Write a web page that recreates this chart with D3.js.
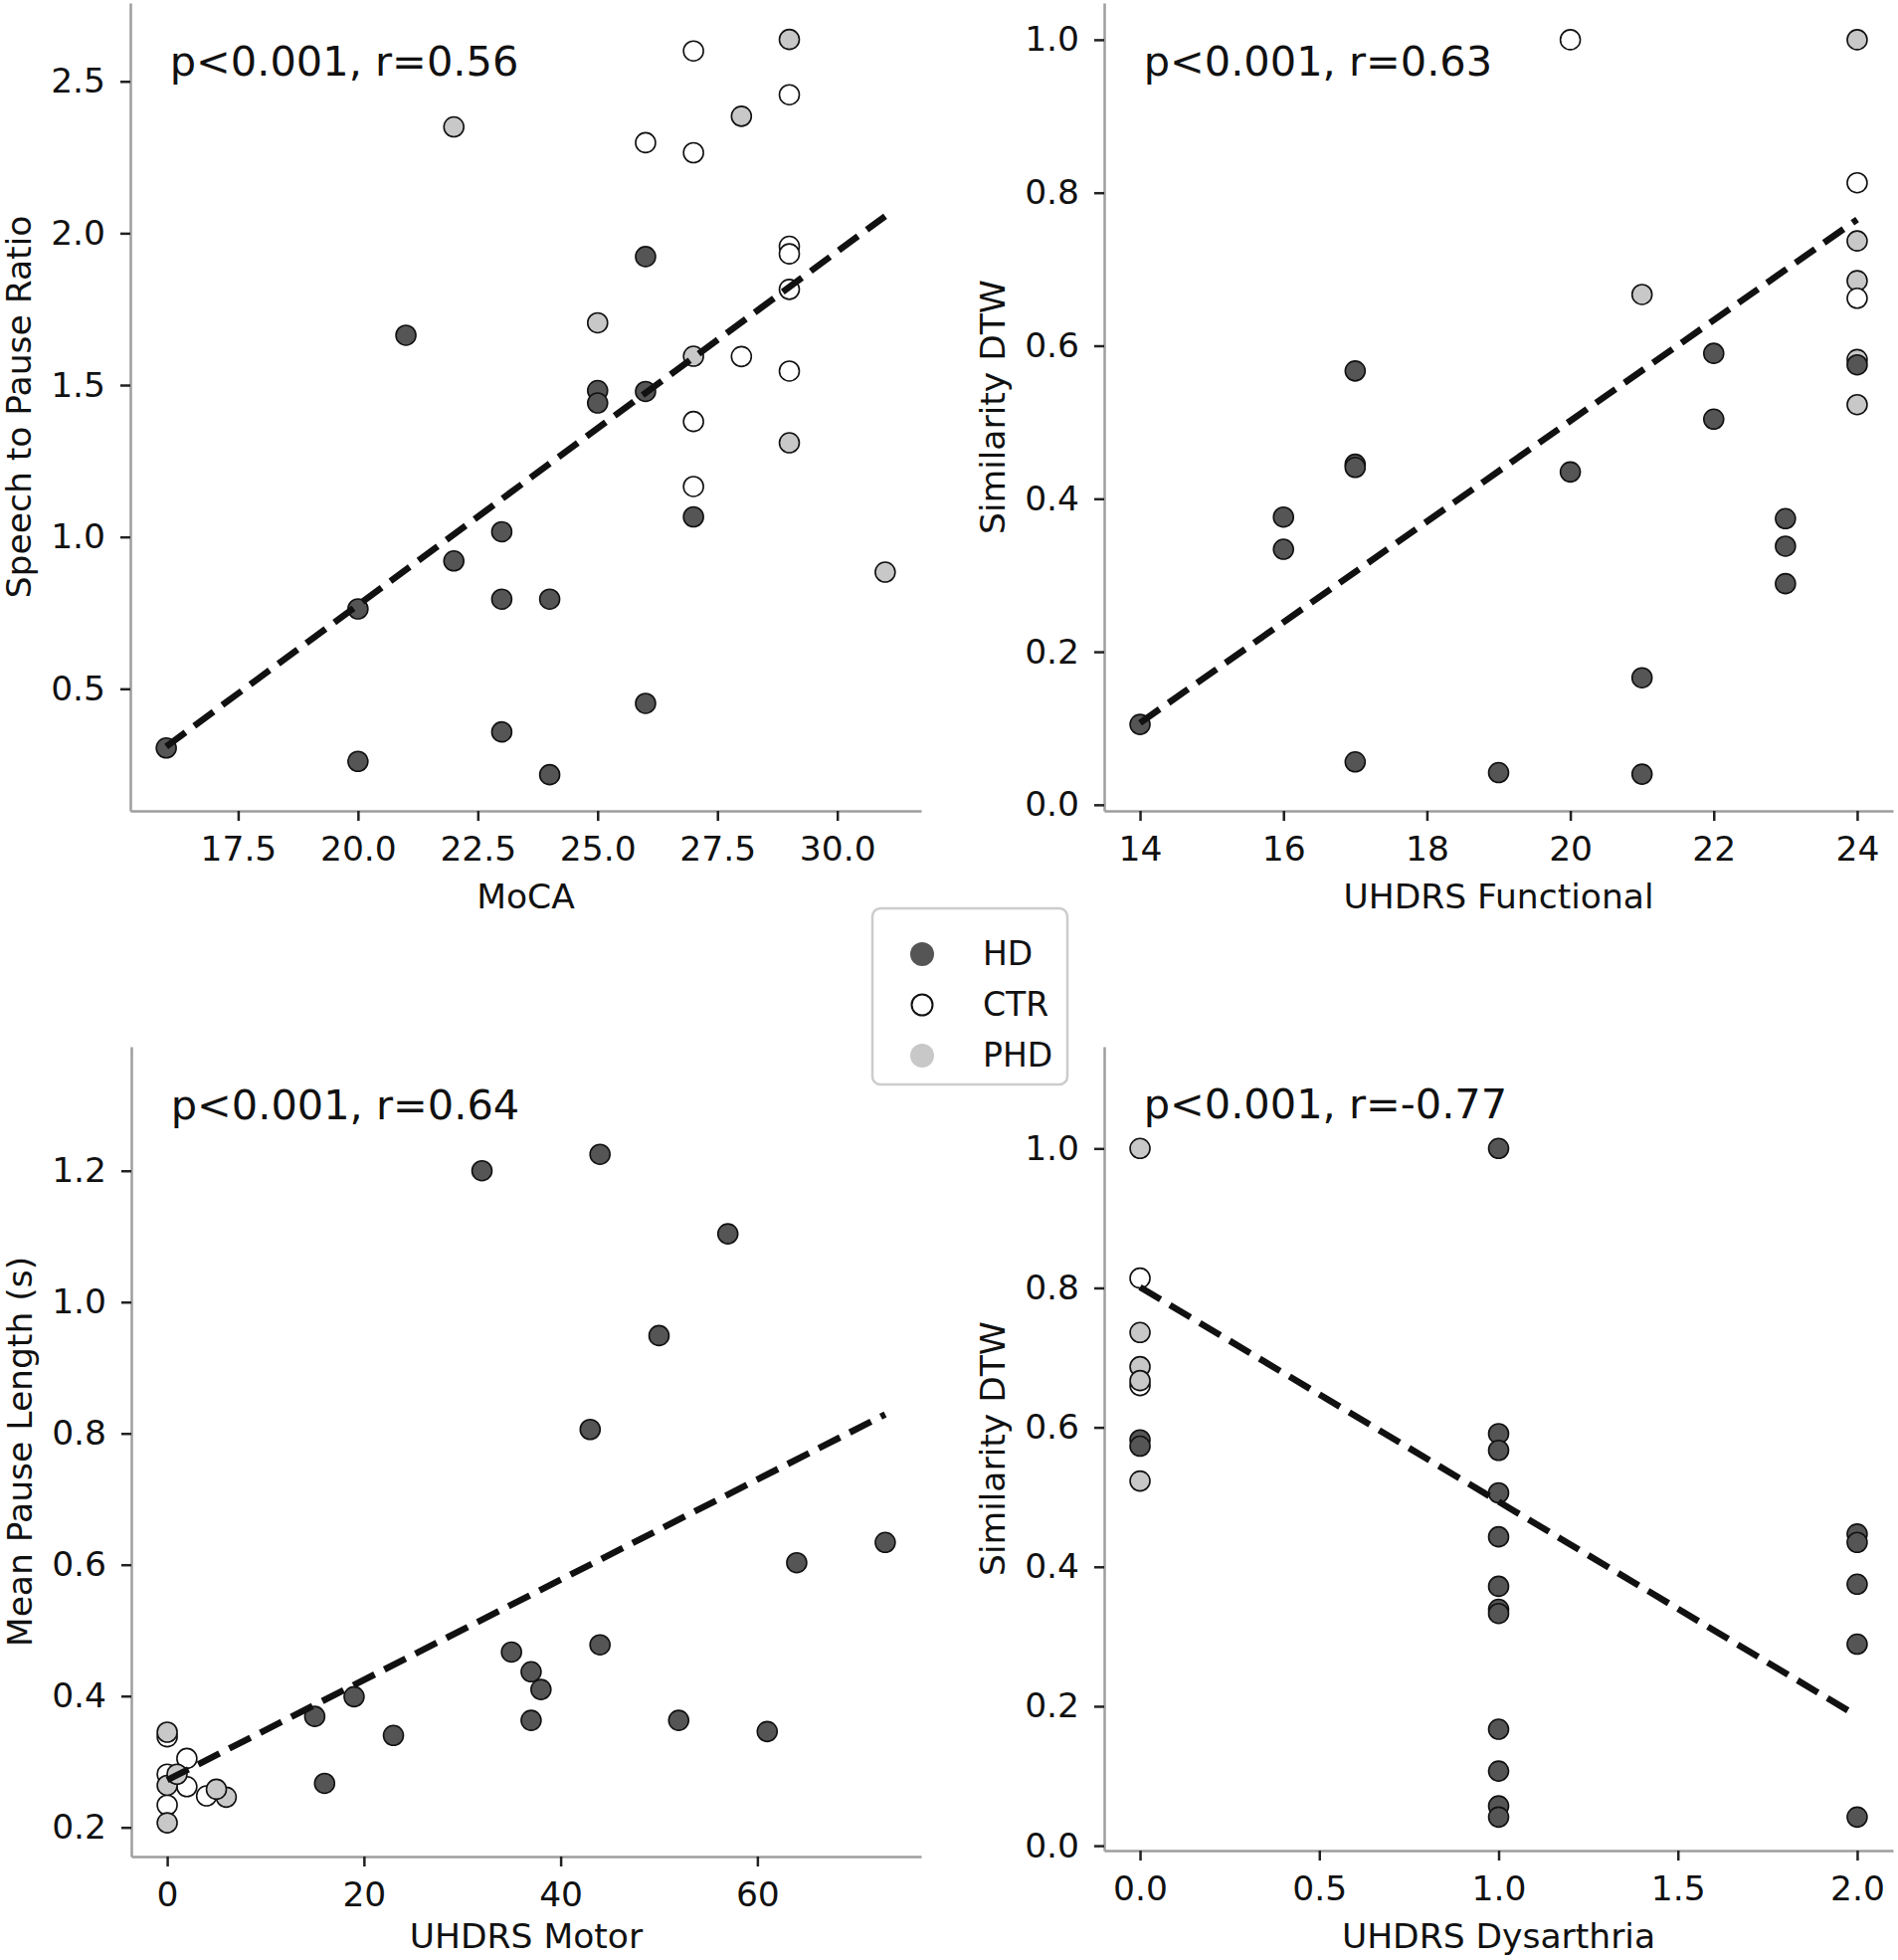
<!DOCTYPE html>
<html>
<head>
<meta charset="utf-8">
<script src="https://cdn.jsdelivr.net/npm/d3@7"></script>
<style>
  body { margin: 0; background: #fff; }
  text { font-family: "DejaVu Sans", sans-serif; }
</style>
</head>
<body>
<svg id="chart" width="1908" height="1970"></svg>
<script>
// ---- data ----
const groups = ["HD", "CTR", "PHD"];

// MoCA vs speech-to-pause ratio
const mocaX = [22, 25, 27, 28, 29, 29, 31,
  26, 27, 27, 27, 27, 28, 29, 29, 29, 29, 29,
  16, 20, 20, 21, 22, 23, 23, 23, 24, 24, 25, 25, 26, 26, 26, 27];
const mocaY = [2.35, 1.705, 1.595, 2.385, 2.638, 1.31, 0.884,
  2.298, 2.6, 2.265, 1.38, 1.166, 1.594, 2.456, 1.957, 1.932, 1.815, 1.546,
  0.305, 0.261, 0.763, 1.664, 0.921, 1.017, 0.795, 0.358, 0.795, 0.217, 1.482, 1.441, 1.923, 1.479, 0.452, 1.066];
const mocaG = ["PHD", "PHD", "PHD", "PHD", "PHD", "PHD", "PHD",
  "CTR", "CTR", "CTR", "CTR", "CTR", "CTR", "CTR", "CTR", "CTR", "CTR", "CTR",
  "HD", "HD", "HD", "HD", "HD", "HD", "HD", "HD", "HD", "HD", "HD", "HD", "HD", "HD", "HD", "HD"];
const mocaFit = [[16, 0.31], [31, 2.056]];

// UHDRS functional vs similarity DTW
const functionalX = [21, 24, 24, 24, 24, 24,
  20, 24, 24,
  14, 16, 16, 17, 17, 17, 17, 19, 20, 21, 21, 22, 22, 23, 23, 23, 24];
const functionalY = [0.667, 1.0, 0.737, 0.685, 0.582, 0.523,
  1.0, 0.813, 0.662,
  0.105, 0.376, 0.334, 0.567, 0.445, 0.441, 0.056, 0.042, 0.435, 0.166, 0.04, 0.59, 0.504, 0.374, 0.338, 0.289, 0.575];
const functionalG = ["PHD", "PHD", "PHD", "PHD", "PHD", "PHD",
  "CTR", "CTR", "CTR",
  "HD", "HD", "HD", "HD", "HD", "HD", "HD", "HD", "HD", "HD", "HD", "HD", "HD", "HD", "HD", "HD", "HD"];
const functionalFit = [[14, 0.107], [24, 0.765]];

// UHDRS motor vs mean pause length
const motorX = [0, 0, 2, 2, 4, 0,
  0, 0, 1, 6, 5, 0,
  15, 16, 19, 23, 32, 35, 37, 37, 38, 43, 44, 44, 50, 52, 57, 61, 64, 73];
const motorY = [0.338, 0.281, 0.305, 0.262, 0.248, 0.234,
  0.345, 0.264, 0.281, 0.246, 0.258, 0.207,
  0.369, 0.267, 0.399, 0.34, 1.2, 0.467, 0.437, 0.363, 0.41, 0.806, 1.225, 0.478, 0.949, 0.363, 1.104, 0.346, 0.603, 0.634];
const motorG = ["CTR", "CTR", "CTR", "CTR", "CTR", "CTR",
  "PHD", "PHD", "PHD", "PHD", "PHD", "PHD",
  "HD", "HD", "HD", "HD", "HD", "HD", "HD", "HD", "HD", "HD", "HD", "HD", "HD", "HD", "HD", "HD", "HD", "HD"];
const motorFit = [[0, 0.272], [73, 0.829]];

// UHDRS dysarthria vs similarity DTW
const dysarthriaX = [0, 0, 0, 0, 0, 0, 0,
  0, 0,
  1, 1, 1, 1, 1, 1, 1, 1, 1, 1, 1, 1,
  2, 2, 2, 2, 2];
const dysarthriaY = [1.0, 0.736, 0.687, 0.523, 0.814, 0.66, 0.667,
  0.582, 0.573,
  1.0, 0.591, 0.567, 0.506, 0.443, 0.372, 0.339, 0.333, 0.167, 0.107, 0.057, 0.041,
  0.447, 0.435, 0.375, 0.289, 0.041];
const dysarthriaG = ["PHD", "PHD", "PHD", "PHD", "CTR", "CTR", "PHD",
  "HD", "HD",
  "HD", "HD", "HD", "HD", "HD", "HD", "HD", "HD", "HD", "HD", "HD", "HD",
  "HD", "HD", "HD", "HD", "HD"];
const dysarthriaFit = [[0, 0.801], [2, 0.186]];

// tick labels
const mocaTicks = [17.5, 20, 22.5, 25, 27.5, 30];
const ratioTicks = [0.5, 1.0, 1.5, 2.0, 2.5];
const functionalTicks = [14, 16, 18, 20, 22, 24];
const dtwTicks = [0, 0.2, 0.4, 0.6, 0.8, 1.0];
const motorTicks = [0, 20, 40, 60];
const pauseTicks = [0.2, 0.4, 0.6, 0.8, 1.0, 1.2];
const dysarthriaTicks = [0, 0.5, 1.0, 1.5, 2.0];

// ---- styling ----
const fillOf = { HD: "#555555", CTR: "#ffffff", PHD: "#c8c8c8" };
const FONT = 34.5;
const R = 10;

const panels = [
  { x: mocaX, y: mocaY, g: mocaG, fit: mocaFit, note: "p<0.001, r=0.56",
    xLabel: "MoCA", yLabel: "Speech to Pause Ratio",
    xTicks: mocaTicks, yTicks: ratioTicks, xFmt: ".1f", yFmt: ".1f",
    xDom: [15.25, 31.75], yDom: [0.098, 2.758], box: { l: 131, r: 926, t: 3, b: 815 } },
  { x: functionalX, y: functionalY, g: functionalG, fit: functionalFit, note: "p<0.001, r=0.63",
    xLabel: "UHDRS Functional", yLabel: "Similarity DTW",
    xTicks: functionalTicks, yTicks: dtwTicks, xFmt: "d", yFmt: ".1f",
    xDom: [13.5, 24.5], yDom: [-0.008, 1.048], box: { l: 1110, r: 1903, t: 3, b: 815 } },
  { x: motorX, y: motorY, g: motorG, fit: motorFit, note: "p<0.001, r=0.64",
    xLabel: "UHDRS Motor", yLabel: "Mean Pause Length (s)",
    xTicks: motorTicks, yTicks: pauseTicks, xFmt: "d", yFmt: ".1f",
    xDom: [-3.65, 76.65], yDom: [0.1556, 1.389], box: { l: 132, r: 926, t: 1052, b: 1866 } },
  { x: dysarthriaX, y: dysarthriaY, g: dysarthriaG, fit: dysarthriaFit, note: "p<0.001, r=-0.77",
    xLabel: "UHDRS Dysarthria", yLabel: "Similarity DTW",
    xTicks: dysarthriaTicks, yTicks: dtwTicks, xFmt: ".1f", yFmt: ".1f",
    xDom: [-0.1, 2.1], yDom: [-0.007, 1.146], box: { l: 1110, r: 1903, t: 1052, b: 1860 } },
];

const svg = d3.select("#chart");
svg.append("rect").attr("width", 1908).attr("height", 1970).attr("fill", "#fff");

function styleAxis(sel) {
  sel.attr("font-size", FONT).attr("font-family", "DejaVu Sans, sans-serif");
  sel.select(".domain").attr("stroke", "#9e9e9e").attr("stroke-width", 2.5);
  sel.selectAll(".tick line").attr("stroke", "#222").attr("stroke-width", 2.5);
  sel.selectAll(".tick text").attr("fill", "#111");
}

panels.forEach((p) => {
  const b = p.box;
  const xs = d3.scaleLinear().domain(p.xDom).range([b.l, b.r]);
  const ys = d3.scaleLinear().domain(p.yDom).range([b.b, b.t]);
  const panel = svg.append("g").attr("class", "panel");

  // axes (spines = domain paths)
  panel.append("g")
    .attr("transform", `translate(0,${b.b})`)
    .call(d3.axisBottom(xs).tickValues(p.xTicks).tickFormat(d3.format(p.xFmt))
      .tickSize(10).tickSizeOuter(0).tickPadding(16))
    .call(styleAxis);
  panel.append("g")
    .attr("transform", `translate(${b.l},0)`)
    .call(d3.axisLeft(ys).tickValues(p.yTicks).tickFormat(d3.format(p.yFmt))
      .tickSize(10).tickSizeOuter(0).tickPadding(15))
    .call(styleAxis);

  // points
  panel.append("g").selectAll("circle")
    .data(d3.range(p.x.length))
    .join("circle")
    .attr("cx", (i) => xs(p.x[i]))
    .attr("cy", (i) => ys(p.y[i]))
    .attr("r", R)
    .attr("fill", (i) => fillOf[p.g[i]])
    .attr("stroke", "#111")
    .attr("stroke-width", 1.6);

  // regression line
  panel.append("path")
    .datum(p.fit)
    .attr("d", d3.line().x((d) => xs(d[0])).y((d) => ys(d[1])))
    .attr("fill", "none")
    .attr("stroke", "#111")
    .attr("stroke-width", 6.5)
    .attr("stroke-dasharray", "24,11");

  // correlation note
  panel.append("text")
    .attr("x", b.l + 0.05 * (b.r - b.l))
    .attr("y", b.t + 0.05 * (b.b - b.t) + 32)
    .attr("font-size", 41.5)
    .attr("fill", "#111")
    .text(p.note);

  // axis labels
  panel.append("text")
    .attr("x", (b.l + b.r) / 2)
    .attr("y", Math.min(b.b + 98, 1958))
    .attr("text-anchor", "middle")
    .attr("font-size", FONT)
    .attr("fill", "#111")
    .text(p.xLabel);
  panel.append("text")
    .attr("transform", `translate(${b.l - 100},${(b.t + b.b) / 2}) rotate(-90)`)
    .attr("text-anchor", "middle")
    .attr("font-size", FONT)
    .attr("fill", "#111")
    .text(p.yLabel);
});

// legend
const legend = svg.append("g").attr("class", "legend");
legend.append("rect")
  .attr("x", 877).attr("y", 913).attr("width", 196).attr("height", 177)
  .attr("rx", 8).attr("fill", "#fff").attr("stroke", "#cccccc").attr("stroke-width", 2.5);
const legendY = d3.scalePoint().domain(groups).range([959, 1061]);
const item = legend.selectAll("g.item").data(groups).join("g").attr("class", "item");
item.append("circle")
  .attr("cx", 927)
  .attr("cy", (d) => legendY(d))
  .attr("r", (d) => (d === "CTR" ? 10.5 : 12))
  .attr("fill", (d) => fillOf[d])
  .attr("stroke", (d) => (d === "CTR" ? "#111" : "none"))
  .attr("stroke-width", 2);
item.append("text")
  .attr("x", 988)
  .attr("y", (d) => legendY(d) + 11)
  .attr("font-size", 33)
  .attr("fill", "#111")
  .text((d) => d);
</script>
</body>
</html>
